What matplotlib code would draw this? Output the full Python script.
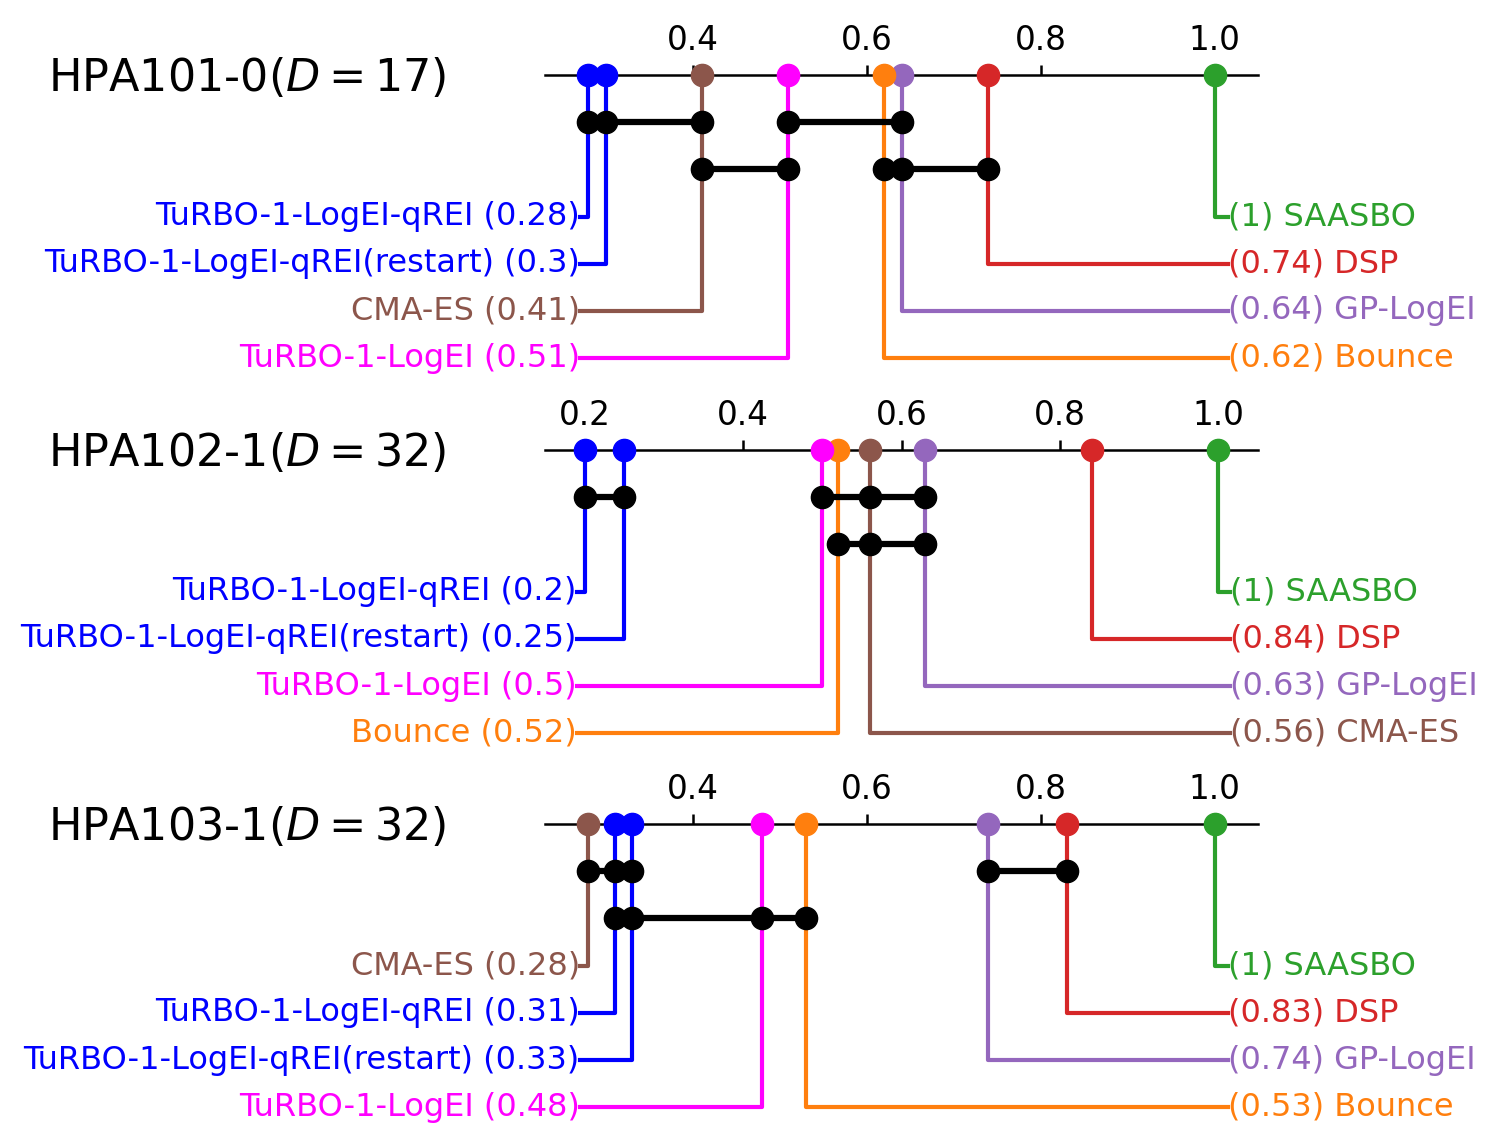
import numpy as np
import matplotlib.pyplot as plt
from matplotlib.transforms import blended_transform_factory

# HPA101-0 (D=17)
names_a = ['SAASBO', 'DSP', 'GP-LogEI', 'Bounce', 'TuRBO-1-LogEI', 'CMA-ES',
           'TuRBO-1-LogEI-qREI(restart)', 'TuRBO-1-LogEI-qREI']
scores_a = [1.0, 0.74, 0.64, 0.62, 0.51, 0.41, 0.30, 0.28]
cliques_a = [(1, [0.28, 0.30, 0.41]), (1, [0.51, 0.64]),
             (2, [0.41, 0.51]), (2, [0.62, 0.64, 0.74])]

# HPA102-1 (D=32)
names_b = ['SAASBO', 'DSP', 'GP-LogEI', 'CMA-ES', 'Bounce', 'TuRBO-1-LogEI',
           'TuRBO-1-LogEI-qREI(restart)', 'TuRBO-1-LogEI-qREI']
scores_b = [1.0, 0.84, 0.63, 0.56, 0.52, 0.50, 0.25, 0.20]
cliques_b = [(1, [0.20, 0.25]), (1, [0.50, 0.56, 0.63]),
             (2, [0.52, 0.56, 0.63])]

# HPA103-1 (D=32)
names_c = ['SAASBO', 'DSP', 'GP-LogEI', 'Bounce', 'TuRBO-1-LogEI',
           'TuRBO-1-LogEI-qREI(restart)', 'TuRBO-1-LogEI-qREI', 'CMA-ES']
scores_c = [1.0, 0.83, 0.74, 0.53, 0.48, 0.33, 0.31, 0.28]
cliques_c = [(1, [0.28, 0.31, 0.33]), (1, [0.74, 0.83]),
             (2, [0.31, 0.33, 0.48, 0.53])]

titles = [r'HPA101-0($D=17$)', r'HPA102-1($D=32$)', r'HPA103-1($D=32$)']

colors = {
    'SAASBO': 'tab:green',
    'DSP': 'tab:red',
    'GP-LogEI': 'tab:purple',
    'Bounce': 'tab:orange',
    'CMA-ES': 'tab:brown',
    'TuRBO-1-LogEI': '#ff00ff',
    'TuRBO-1-LogEI-qREI': '#0000ff',
    'TuRBO-1-LogEI-qREI(restart)': '#0000ff',
}

fig = plt.figure(figsize=(14.95, 11.46), dpi=100)


def draw_cd(ax, title, names, scores, cliques):
    scores = np.array(scores)
    lo = scores.min() - 0.05
    ax.set_xlim(lo, 1.05)
    ax.set_ylim(6.5, 0)
    for s in ['left', 'right', 'bottom']:
        ax.spines[s].set_visible(False)
    ax.spines['top'].set_linewidth(1.8)
    ax.xaxis.tick_top()
    ax.set_xticks([t for t in [0.2, 0.4, 0.6, 0.8, 1.0] if t >= lo])
    ax.tick_params(axis='x', direction='out', length=7, width=1.8,
                   labelsize=23.5, pad=6)
    ax.set_yticks([])
    ax.patch.set_visible(False)

    order = np.argsort(scores)
    half = len(names) // 2
    xl = scores.min() - 0.01
    xr = 1.015
    # left side: lowest scores
    for i, k in enumerate(order[:half]):
        r = 3 + i
        c = colors[names[k]]
        ax.plot([scores[k], scores[k], xl], [0, r, r], color=c, lw=3,
                clip_on=False, zorder=2)
        ax.text(xl, r, f'{names[k]} ({scores[k]:g})', ha='right',
                va='center', color=c, fontsize=23)
    # right side: highest scores
    for i, k in enumerate(order[half:][::-1]):
        r = 3 + i
        c = colors[names[k]]
        ax.plot([scores[k], scores[k], xr], [0, r, r], color=c, lw=3,
                clip_on=False, zorder=2)
        ax.text(xr, r, f'({scores[k]:g}) {names[k]}', ha='left',
                va='center', color=c, fontsize=23)

    for row, members in cliques:
        ax.plot([min(members), max(members)], [row, row], color='black',
                lw=4.5, zorder=3, clip_on=False)
        ax.plot(members, [row] * len(members), 'o', color='black', ms=16,
                zorder=4, clip_on=False)

    for k in range(len(names)):
        ax.plot(scores[k], 0, 'o', color=colors[names[k]], ms=16,
                zorder=5, clip_on=False)

    trans = blended_transform_factory(fig.transFigure, ax.transData)
    ax.text(0.032, 0.07, title, transform=trans, ha='left', va='center',
            fontsize=32)


tops = [75, 450, 824]
row_px = 47.2
h = 6.5 * row_px / 1146
panels = [(names_a, scores_a, cliques_a),
          (names_b, scores_b, cliques_b),
          (names_c, scores_c, cliques_c)]
for top, title, (nm, sc, cl) in zip(tops, titles, panels):
    ax = fig.add_axes([545 / 1495, 1 - top / 1146 - h, 713 / 1495, h])
    draw_cd(ax, title, nm, sc, cl)

fig.savefig('out.png', dpi=100)
